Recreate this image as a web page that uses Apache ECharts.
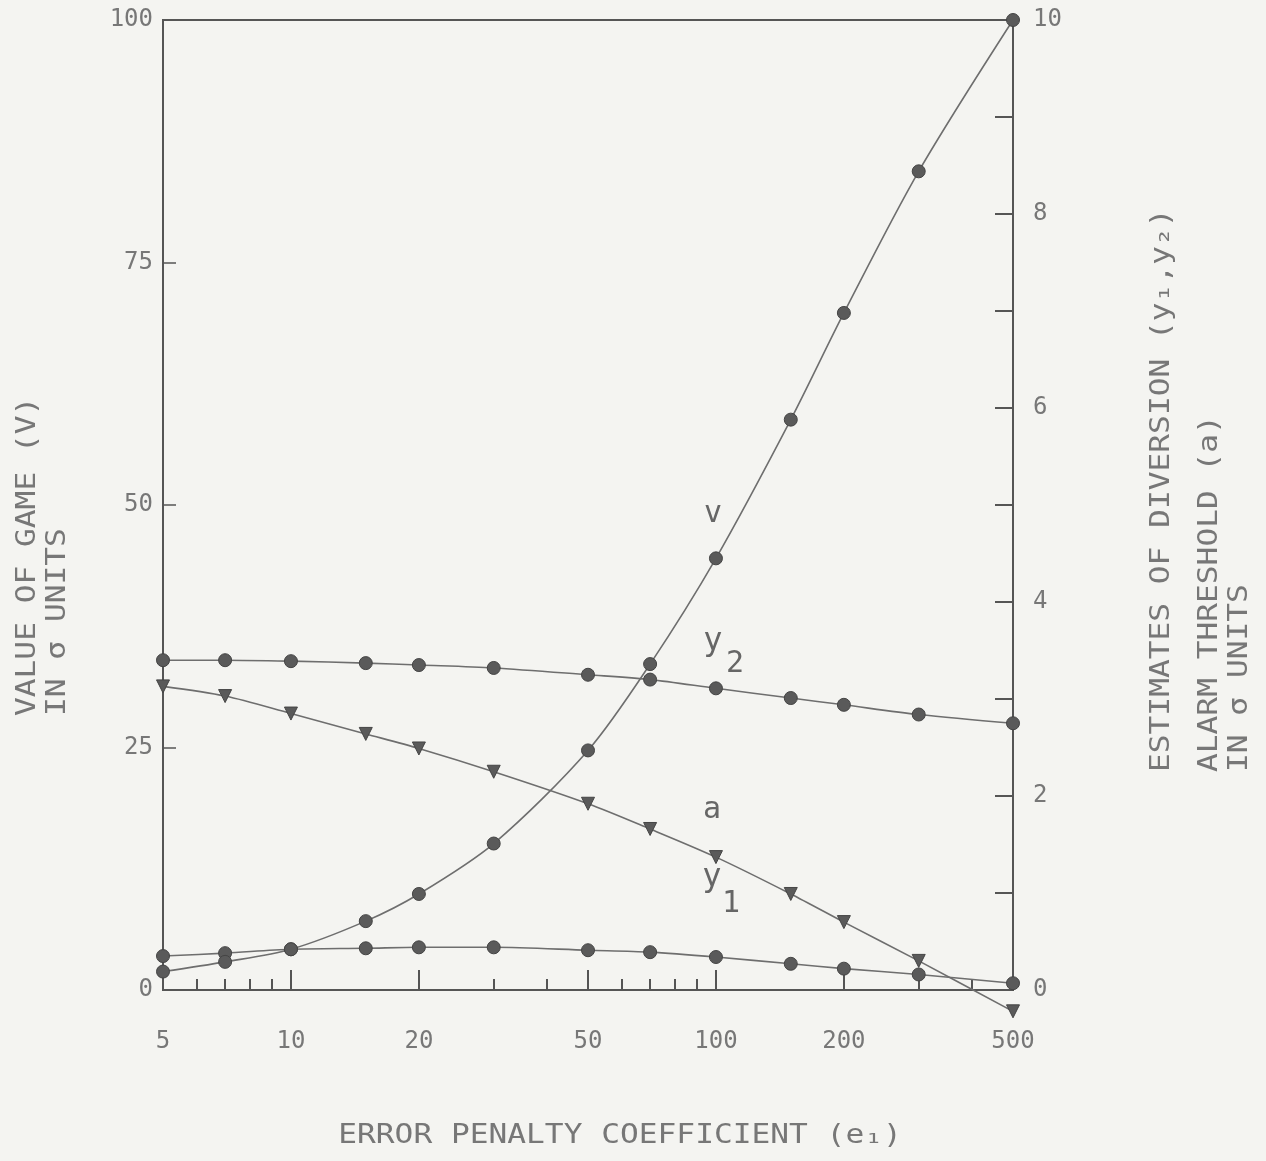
<!DOCTYPE html>
<html><head><meta charset="utf-8">
<script src="https://cdn.jsdelivr.net/npm/echarts@6/dist/echarts.min.js"></script>
<style>html,body{margin:0;padding:0;background:#f4f4f1}#c{width:1266px;height:1161px}</style>
</head><body><div id="c"></div><script>
// Error penalty coefficient (x, log scale)
const e1 = [5, 7, 10, 15, 20, 30, 50, 70, 100, 150, 200, 300, 500];
// Value of game V (left axis)
const vGame = [1.9, 2.9, 4.2, 7.1, 9.9, 15.1, 24.7, 33.6, 44.5, 58.8, 69.8, 84.4, 100];
// Estimates of diversion y2, y1 and alarm threshold a (right axis)
const y2 = [3.40, 3.40, 3.39, 3.37, 3.35, 3.32, 3.25, 3.20, 3.11, 3.01, 2.94, 2.84, 2.75];
const aThr = [3.13, 3.03, 2.85, 2.64, 2.49, 2.25, 1.92, 1.66, 1.37, 0.99, 0.70, 0.30, -0.22];
const y1 = [0.35, 0.38, 0.42, 0.43, 0.44, 0.44, 0.41, 0.39, 0.34, 0.27, 0.22, 0.16, 0.07];
// Tick labels
const xLabelValues = [5, 10, 20, 50, 100, 200, 500];
const xMajorTicks = [10, 20, 50, 100, 200];
const xMinorTicks = [6, 7, 8, 9, 30, 40, 60, 70, 80, 90, 300, 400];

const pairs = (xs, ys) => xs.map((x, i) => [x, ys[i]]);
const FONT = 'DejaVu Sans Mono';
const TXT = '#777';
const LINE = '#555';

const chart = echarts.init(document.getElementById('c'), null, {renderer: 'canvas'});

function lineSeries(name, data, yIdx, symbol, rot, smooth) {
  return {
    name, type: 'line', xAxisIndex: 0, yAxisIndex: yIdx, data,
    smooth: smooth, clip: false,
    symbol, symbolSize: 13, symbolRotate: rot,
    lineStyle: {color: '#6e6e6e', width: 1.6},
    itemStyle: {color: '#5a5a5a', borderColor: '#444', borderWidth: 1},
    z: 5
  };
}

function vText(x, y, text, size, sx) {
  return {type: 'text', x, y, rotation: Math.PI / 2, scaleX: sx || 1.2,
    style: {text, fontFamily: FONT, fontSize: size || 26, fill: TXT, align: 'left', verticalAlign: 'middle'}};
}
function txt(x, y, text, size, sx) {
  return {type: 'text', x, y, scaleX: sx || 1,
    style: {text, fontFamily: FONT, fontSize: size, fill: '#666', align: 'center', verticalAlign: 'middle'}};
}

const option = {
  animation: false,
  backgroundColor: '#f4f4f1',
  grid: {left: 163, right: 253, top: 20, bottom: 171, show: true, borderColor: LINE, borderWidth: 2, backgroundColor: 'transparent'},
  xAxis: [{
    type: 'log', logBase: 10, min: 5, max: 500, position: 'bottom',
    axisLine: {show: true, onZero: false, lineStyle: {color: LINE, width: 2}},
    axisTick: {show: true, inside: true, length: 20, customValues: xMajorTicks, lineStyle: {color: LINE, width: 2}},
    axisLabel: {customValues: xLabelValues, margin: 40, fontFamily: FONT, fontSize: 24, color: TXT, formatter: v => String(v)},
    splitLine: {show: false}, minorTick: {show: false}, minorSplitLine: {show: false}
  }, {
    type: 'log', logBase: 10, min: 5, max: 500, position: 'bottom',
    axisLine: {show: false, onZero: false},
    axisTick: {show: true, inside: true, length: 11, customValues: xMinorTicks, lineStyle: {color: LINE, width: 2}},
    axisLabel: {show: false},
    splitLine: {show: false}
  }],
  yAxis: [{
    type: 'value', min: 0, max: 100, interval: 25, position: 'left',
    axisLine: {show: true, lineStyle: {color: LINE, width: 2}},
    axisTick: {show: true, inside: true, length: 13, lineStyle: {color: LINE, width: 1.5}},
    axisLabel: {margin: 10, fontFamily: FONT, fontSize: 24, color: TXT},
    splitLine: {show: false}
  }, {
    type: 'value', min: 0, max: 10, interval: 1, position: 'right',
    axisLine: {show: true, lineStyle: {color: LINE, width: 2}},
    axisTick: {show: true, inside: true, length: 18, lineStyle: {color: LINE, width: 2}},
    axisLabel: {margin: 20, fontFamily: FONT, fontSize: 24, color: TXT, formatter: v => (v % 2 === 0 ? String(v) : '')},
    splitLine: {show: false}
  }],
  series: [
    lineSeries('y2', pairs(e1, y2), 1, 'circle', 0, 0.3),
    lineSeries('a', pairs(e1, aThr), 1, 'triangle', 180, 0.3),
    lineSeries('y1', pairs(e1, y1), 1, 'circle', 0, 0.3),
    lineSeries('V', pairs(e1, vGame), 0, 'circle', 0, 0.3)
  ],
  graphic: [
    vText(28, 716, 'VALUE OF GAME (V)'),
    vText(58, 716, 'IN \u03c3 UNITS'),
    vText(1162, 772, 'ESTIMATES OF DIVERSION (y\u2081,y\u2082)'),
    vText(1210, 772, 'ALARM THRESHOLD (a)'),
    vText(1240, 772, 'IN \u03c3 UNITS'),
    {type: 'text', x: 620, y: 1136, scaleX: 1.2,
      style: {text: 'ERROR PENALTY COEFFICIENT (e\u2081)', fontFamily: FONT, fontSize: 26, fill: TXT, align: 'center', verticalAlign: 'middle'}},
    txt(713, 514, 'v', 30),
    txt(713, 642, 'y', 32),
    txt(735, 664, '2', 30),
    txt(712, 810, 'a', 30),
    txt(712, 878, 'y', 32),
    txt(731, 904, '1', 30)
  ]
};
chart.setOption(option);
</script></body></html>
